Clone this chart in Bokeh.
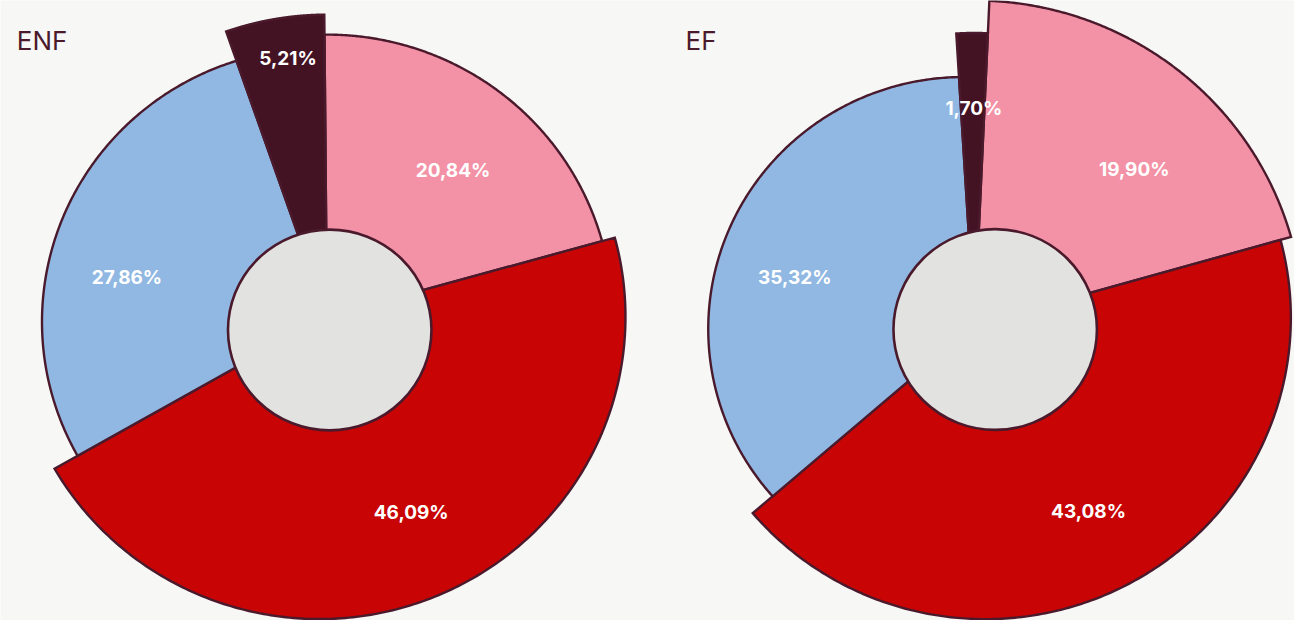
import numpy as np
from bokeh.plotting import figure
from bokeh.models import ColumnDataSource, Range1d
from bokeh.core.properties import value
from bokeh.embed import file_html
from bokeh.resources import INLINE

# ---------------- data ----------------
groups = ["ENF", "EF"]
series = ["Serie 1", "Serie 2", "Serie 3", "Serie 4"]
enf_values = [20.84, 46.09, 27.86, 5.21]
ef_values = [19.90, 43.08, 35.32, 1.70]
values_by_group = {"ENF": enf_values, "EF": ef_values}

# ---------------- styles ----------------
BG = "#f7f7f5"
COLORS = ["#f392a6", "#c80404", "#90b8e2", "#431324"]
STROKE = "#4a1a2c"
HOLE = "#e2e2e0"
TITLE_COLOR = "#4a1a2c"

W, H = 1294, 620          # figure size in screen pixels
REF_W, REF_H = 1310, 636  # layout space (reference picture pixels)

# layout (reference pixel space, y downward): common apex, rotation,
# per-slice arc circle (cx, cy, r), inner hole, title anchor,
# label placement (angle tweak in degrees, distance from apex)
LAYOUT = {
    "ENF": dict(apex=(330.5, 324.0), rot=-0.5,
                arcs=[(330.5, 324.0, 289.0), (322.7, 324.5, 310.0),
                      (322.5, 329.6, 280.5), (330.5, 324.0, 309.5)],
                hole=(333.3, 338.0, 103.0), title=(16.5, 41.0),
                labels=[(3.5, 196.5), (-0.5, 218.1), (-9.6, 206.3), (1.4, 267.7)]),
    "EF": dict(apex=(986.0, 333.0), rot=2.6,
               arcs=[(986.0, 333.0, 333.0), (997.0, 325.3, 309.3),
                     (975.0, 337.0, 258.5), (986.0, 333.0, 299.7)],
               hole=(1007.0, 337.5, 103.0), title=(693.5, 41.0),
               labels=[(7.0, 227.1), (-2.9, 223.5), (-8.0, 188.2), (0.3, 222.2)]),
}


def to_data(px, py):
    return np.asarray(px, dtype=float), REF_H - np.asarray(py, dtype=float)


def slice_polygon(apex, th1, th2, arc, n=240):
    ax, ay = apex
    cx, cy, R = arc
    th = np.radians(np.linspace(th1, th2, n))
    ux, uy = np.sin(th), -np.cos(th)
    dx, dy = ax - cx, ay - cy
    b = ux * dx + uy * dy
    t = -b + np.sqrt(b * b - (dx * dx + dy * dy) + R * R)
    px = np.concatenate([[ax], ax + t * ux, [ax]])
    py = np.concatenate([[ay], ay + t * uy, [ay]])
    return to_data(px, py)


p = figure(width=W, height=H, x_range=Range1d(0, REF_W), y_range=Range1d(0, REF_H),
           output_backend="svg", toolbar_location=None,
           x_axis_location=None, y_axis_location=None)
p.min_border = 0
p.grid.visible = False
p.outline_line_color = None
p.background_fill_color = BG
p.border_fill_color = BG

for g in groups:
    vals = values_by_group[g]
    lay = LAYOUT[g]
    total = sum(vals)
    angles = [v / total * 360.0 for v in vals]
    starts = np.concatenate([[0.0], np.cumsum(angles)[:-1]]) + lay["rot"]
    ends = starts + np.array(angles)

    xs, ys = [], []
    for i in range(len(vals)):
        x, y = slice_polygon(lay["apex"], starts[i], ends[i], lay["arcs"][i])
        xs.append(list(x))
        ys.append(list(y))
    src = ColumnDataSource(dict(xs=xs, ys=ys, color=COLORS, name=series, val=vals))
    p.patches("xs", "ys", source=src, fill_color="color", line_color=STROKE,
              line_width=2.4, line_join="miter")

    hx, hy = to_data(lay["hole"][0], lay["hole"][1])
    d = 2 * lay["hole"][2]
    p.ellipse(x=[float(hx)], y=[float(hy)], width=d, height=d,
              fill_color=HOLE, line_color=STROKE, line_width=2.6)

    # value labels
    ax, ay = lay["apex"]
    lx, ly, lt = [], [], []
    for i, v in enumerate(vals):
        tweak, dist = lay["labels"][i]
        mid = np.radians((starts[i] + ends[i]) / 2 + tweak)
        px_, py_ = ax + dist * np.sin(mid), ay - dist * np.cos(mid)
        dx_, dy_ = to_data(px_, py_)
        lx.append(float(dx_))
        ly.append(float(dy_))
        lt.append(f"{v:.2f}".replace(".", ",") + "%")
    p.text(x=lx, y=ly, text=lt, text_align="center", text_baseline="middle",
           text_color="white", text_font=value("Inter"), text_font_style="bold",
           text_font_size="19px")

    tx, ty = to_data(*lay["title"])
    p.text(x=[float(tx)], y=[float(ty)], text=[g], text_align="left",
           text_baseline="middle", text_color=TITLE_COLOR,
           text_font=value("Inter"), text_font_size="26px")

open("out.html", "w").write(file_html(p, INLINE))
